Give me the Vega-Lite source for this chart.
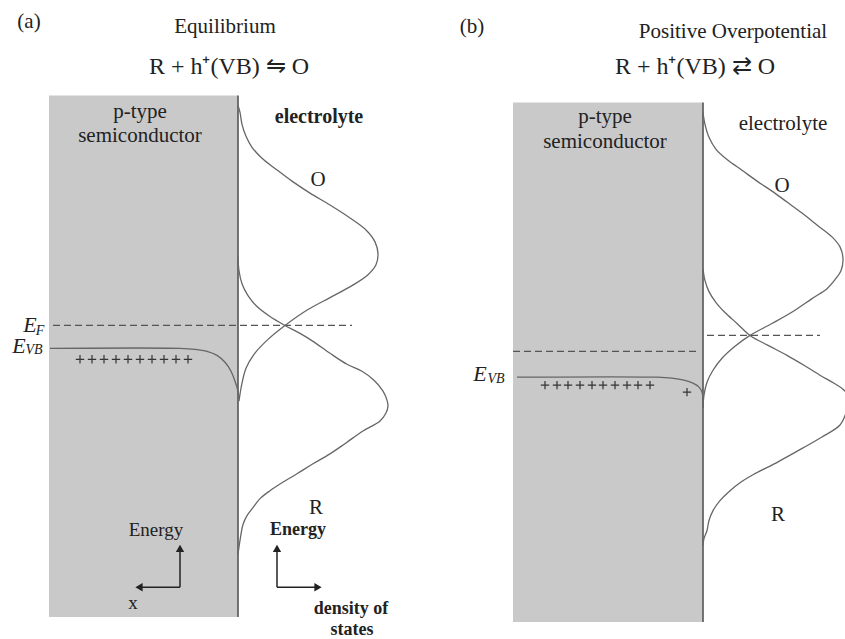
{
  "$schema": "https://vega.github.io/schema/vega-lite/v6.json",
  "width": 845,
  "height": 639,
  "autosize": {"type": "fit", "contains": "padding"},
  "padding": 0,
  "background": "white",
  "config": {"view": {"stroke": null}, "text": {"font": "Liberation Serif", "color": "#222"}},
  "datasets": {
    "panels": [
      {"panel": "a", "x0": 49, "x1": 238, "y0": 96, "y1": 620},
      {"panel": "b", "x0": 513, "x1": 703, "y0": 103, "y1": 625}
    ],
    "bounds": [
      {"panel": "a", "x": 238, "y": 96, "y2": 620},
      {"panel": "b", "x": 703, "y": 103, "y2": 625}
    ],
    "levels": [
      {"name": "EF a", "x": 53, "x2": 352, "y": 327},
      {"name": "EF b semi", "x": 513, "x2": 698, "y": 353},
      {"name": "EF b redox", "x": 707, "x2": 820, "y": 337}
    ],
    "arrows": [
      {"x": 180, "y": 590, "x2": 180, "y2": 552},
      {"x": 180, "y": 590, "x2": 140, "y2": 590},
      {"x": 277, "y": 590, "x2": 277, "y2": 552},
      {"x": 277, "y": 590, "x2": 317, "y2": 590}
    ],
    "heads": [
      {"x": 180, "y": 551, "dir": "up"},
      {"x": 139, "y": 590, "dir": "left"},
      {"x": 277, "y": 551, "dir": "up"},
      {"x": 318, "y": 590, "dir": "right"}
    ],
    "pluses": [
      {"x": 80, "y": 361}, {"x": 92, "y": 361}, {"x": 104, "y": 361}, {"x": 116, "y": 361}, {"x": 128, "y": 361},
      {"x": 140, "y": 361}, {"x": 152, "y": 361}, {"x": 164, "y": 361}, {"x": 176, "y": 361}, {"x": 188, "y": 361},
      {"x": 545, "y": 387}, {"x": 557, "y": 387}, {"x": 568, "y": 387}, {"x": 580, "y": 387}, {"x": 592, "y": 387},
      {"x": 603, "y": 387}, {"x": 615, "y": 387}, {"x": 627, "y": 387}, {"x": 638, "y": 387}, {"x": 650, "y": 387},
      {"x": 687, "y": 394}
    ],
    "curves": [
      {"c": "aO", "i": 1, "x": 238, "y": 106},
      {"c": "aO", "i": 2, "x": 240, "y": 113},
      {"c": "aO", "i": 3, "x": 242, "y": 125},
      {"c": "aO", "i": 4, "x": 246, "y": 137},
      {"c": "aO", "i": 5, "x": 252, "y": 148},
      {"c": "aO", "i": 6, "x": 262, "y": 159},
      {"c": "aO", "i": 7, "x": 276, "y": 170},
      {"c": "aO", "i": 8, "x": 292, "y": 182},
      {"c": "aO", "i": 9, "x": 310, "y": 194},
      {"c": "aO", "i": 10, "x": 330, "y": 206},
      {"c": "aO", "i": 11, "x": 350, "y": 219},
      {"c": "aO", "i": 12, "x": 366, "y": 231},
      {"c": "aO", "i": 13, "x": 375, "y": 243},
      {"c": "aO", "i": 14, "x": 378, "y": 255},
      {"c": "aO", "i": 15, "x": 376, "y": 266},
      {"c": "aO", "i": 16, "x": 368, "y": 276},
      {"c": "aO", "i": 17, "x": 352, "y": 287},
      {"c": "aO", "i": 18, "x": 330, "y": 299},
      {"c": "aO", "i": 19, "x": 308, "y": 311},
      {"c": "aO", "i": 20, "x": 285, "y": 327},
      {"c": "aO", "i": 21, "x": 268, "y": 341},
      {"c": "aO", "i": 22, "x": 254, "y": 356},
      {"c": "aO", "i": 23, "x": 246, "y": 370},
      {"c": "aO", "i": 24, "x": 242, "y": 385},
      {"c": "aO", "i": 25, "x": 240, "y": 396},
      {"c": "aO", "i": 26, "x": 239, "y": 403},
      {"c": "aR", "i": 1, "x": 238, "y": 258},
      {"c": "aR", "i": 2, "x": 239, "y": 272},
      {"c": "aR", "i": 3, "x": 242, "y": 285},
      {"c": "aR", "i": 4, "x": 248, "y": 297},
      {"c": "aR", "i": 5, "x": 257, "y": 308},
      {"c": "aR", "i": 6, "x": 270, "y": 318},
      {"c": "aR", "i": 7, "x": 285, "y": 327},
      {"c": "aR", "i": 8, "x": 300, "y": 335},
      {"c": "aR", "i": 9, "x": 313, "y": 343},
      {"c": "aR", "i": 10, "x": 330, "y": 355},
      {"c": "aR", "i": 11, "x": 347, "y": 366},
      {"c": "aR", "i": 12, "x": 362, "y": 373},
      {"c": "aR", "i": 13, "x": 374, "y": 382},
      {"c": "aR", "i": 14, "x": 383, "y": 393},
      {"c": "aR", "i": 15, "x": 387, "y": 402},
      {"c": "aR", "i": 16, "x": 388, "y": 408},
      {"c": "aR", "i": 17, "x": 386, "y": 415},
      {"c": "aR", "i": 18, "x": 380, "y": 423},
      {"c": "aR", "i": 19, "x": 363, "y": 433},
      {"c": "aR", "i": 20, "x": 346, "y": 445},
      {"c": "aR", "i": 21, "x": 330, "y": 456},
      {"c": "aR", "i": 22, "x": 313, "y": 466},
      {"c": "aR", "i": 23, "x": 297, "y": 476},
      {"c": "aR", "i": 24, "x": 282, "y": 485},
      {"c": "aR", "i": 25, "x": 270, "y": 493},
      {"c": "aR", "i": 26, "x": 260, "y": 501},
      {"c": "aR", "i": 27, "x": 253, "y": 510},
      {"c": "aR", "i": 28, "x": 247, "y": 518},
      {"c": "aR", "i": 29, "x": 243, "y": 527},
      {"c": "aR", "i": 30, "x": 240, "y": 543},
      {"c": "aR", "i": 31, "x": 238, "y": 557},
      {"c": "aE", "i": 1, "x": 50, "y": 350},
      {"c": "aE", "i": 2, "x": 180, "y": 350},
      {"c": "aE", "i": 3, "x": 195, "y": 351},
      {"c": "aE", "i": 4, "x": 207, "y": 353},
      {"c": "aE", "i": 5, "x": 217, "y": 357},
      {"c": "aE", "i": 6, "x": 225, "y": 364},
      {"c": "aE", "i": 7, "x": 231, "y": 373},
      {"c": "aE", "i": 8, "x": 235, "y": 383},
      {"c": "aE", "i": 9, "x": 238, "y": 393},
      {"c": "aE", "i": 10, "x": 239, "y": 400},
      {"c": "bO", "i": 1, "x": 703, "y": 113},
      {"c": "bO", "i": 2, "x": 705, "y": 125},
      {"c": "bO", "i": 3, "x": 709, "y": 138},
      {"c": "bO", "i": 4, "x": 716, "y": 150},
      {"c": "bO", "i": 5, "x": 728, "y": 161},
      {"c": "bO", "i": 6, "x": 742, "y": 171},
      {"c": "bO", "i": 7, "x": 757, "y": 182},
      {"c": "bO", "i": 8, "x": 772, "y": 192},
      {"c": "bO", "i": 9, "x": 787, "y": 203},
      {"c": "bO", "i": 10, "x": 802, "y": 214},
      {"c": "bO", "i": 11, "x": 817, "y": 226},
      {"c": "bO", "i": 12, "x": 832, "y": 238},
      {"c": "bO", "i": 13, "x": 840, "y": 248},
      {"c": "bO", "i": 14, "x": 843, "y": 260},
      {"c": "bO", "i": 15, "x": 841, "y": 272},
      {"c": "bO", "i": 16, "x": 835, "y": 281},
      {"c": "bO", "i": 17, "x": 827, "y": 290},
      {"c": "bO", "i": 18, "x": 812, "y": 300},
      {"c": "bO", "i": 19, "x": 793, "y": 313},
      {"c": "bO", "i": 20, "x": 772, "y": 325},
      {"c": "bO", "i": 21, "x": 750, "y": 337},
      {"c": "bO", "i": 22, "x": 735, "y": 348},
      {"c": "bO", "i": 23, "x": 722, "y": 360},
      {"c": "bO", "i": 24, "x": 713, "y": 372},
      {"c": "bO", "i": 25, "x": 707, "y": 384},
      {"c": "bO", "i": 26, "x": 704, "y": 397},
      {"c": "bO", "i": 27, "x": 703, "y": 410},
      {"c": "bR", "i": 1, "x": 703, "y": 270},
      {"c": "bR", "i": 2, "x": 705, "y": 282},
      {"c": "bR", "i": 3, "x": 709, "y": 293},
      {"c": "bR", "i": 4, "x": 716, "y": 304},
      {"c": "bR", "i": 5, "x": 725, "y": 314},
      {"c": "bR", "i": 6, "x": 737, "y": 325},
      {"c": "bR", "i": 7, "x": 750, "y": 337},
      {"c": "bR", "i": 8, "x": 768, "y": 347},
      {"c": "bR", "i": 9, "x": 787, "y": 357},
      {"c": "bR", "i": 10, "x": 804, "y": 367},
      {"c": "bR", "i": 11, "x": 820, "y": 377},
      {"c": "bR", "i": 12, "x": 834, "y": 385},
      {"c": "bR", "i": 13, "x": 843, "y": 391},
      {"c": "bR", "i": 14, "x": 849, "y": 398},
      {"c": "bR", "i": 15, "x": 851, "y": 405},
      {"c": "bR", "i": 16, "x": 847, "y": 413},
      {"c": "bR", "i": 17, "x": 840, "y": 427},
      {"c": "bR", "i": 18, "x": 822, "y": 439},
      {"c": "bR", "i": 19, "x": 803, "y": 450},
      {"c": "bR", "i": 20, "x": 778, "y": 464},
      {"c": "bR", "i": 21, "x": 753, "y": 477},
      {"c": "bR", "i": 22, "x": 740, "y": 485},
      {"c": "bR", "i": 23, "x": 730, "y": 493},
      {"c": "bR", "i": 24, "x": 720, "y": 503},
      {"c": "bR", "i": 25, "x": 713, "y": 513},
      {"c": "bR", "i": 26, "x": 709, "y": 523},
      {"c": "bR", "i": 27, "x": 707, "y": 533},
      {"c": "bR", "i": 28, "x": 704, "y": 541},
      {"c": "bR", "i": 29, "x": 703, "y": 548},
      {"c": "bE", "i": 1, "x": 517, "y": 379},
      {"c": "bE", "i": 2, "x": 657, "y": 379},
      {"c": "bE", "i": 3, "x": 672, "y": 380},
      {"c": "bE", "i": 4, "x": 684, "y": 382},
      {"c": "bE", "i": 5, "x": 693, "y": 385},
      {"c": "bE", "i": 6, "x": 699, "y": 389},
      {"c": "bE", "i": 7, "x": 702, "y": 394},
      {"c": "bE", "i": 8, "x": 703, "y": 402},
      {"c": "bE", "i": 9, "x": 703, "y": 410}
    ],
    "labels": [
      {"kind": "head", "text": "(a)", "x": 29, "y": 22},
      {"kind": "head", "text": "Equilibrium", "x": 225, "y": 27},
      {"kind": "head", "text": "(b)", "x": 472, "y": 27},
      {"kind": "head", "text": "Positive Overpotential", "x": 733, "y": 32},
      {"kind": "eq", "text": "R + h⁺(VB) ⇋ O", "x": 229, "y": 67},
      {"kind": "eq", "text": "R + h⁺(VB) ⇄ O", "x": 695, "y": 67},
      {"kind": "body", "text": "p-type", "x": 140, "y": 113},
      {"kind": "body", "text": "semiconductor", "x": 140, "y": 137},
      {"kind": "body", "text": "p-type", "x": 605, "y": 118},
      {"kind": "body", "text": "semiconductor", "x": 605, "y": 143},
      {"kind": "body", "text": "electrolyte", "x": 783, "y": 125},
      {"kind": "bodyB", "text": "electrolyte", "x": 319, "y": 118},
      {"kind": "letter", "text": "O", "x": 318, "y": 181},
      {"kind": "letter", "text": "R", "x": 316, "y": 510},
      {"kind": "letter", "text": "O", "x": 782, "y": 187},
      {"kind": "letter", "text": "R", "x": 778, "y": 517},
      {"kind": "small", "text": "Energy", "x": 156, "y": 532},
      {"kind": "small", "text": "x", "x": 133, "y": 606},
      {"kind": "smallB", "text": "Energy", "x": 298, "y": 532},
      {"kind": "smallB", "text": "density of", "x": 351, "y": 612},
      {"kind": "smallB", "text": "states", "x": 352, "y": 633},
      {"kind": "E", "text": "E", "x": 30, "y": 327},
      {"kind": "E", "text": "E", "x": 19, "y": 348},
      {"kind": "E", "text": "E", "x": 480, "y": 376},
      {"kind": "sub", "text": "F", "x": 40, "y": 333},
      {"kind": "sub", "text": "VB", "x": 34, "y": 352},
      {"kind": "sub", "text": "VB", "x": 496, "y": 381}
    ]
  },
  "layer": [
    {
      "data": {"name": "panels"},
      "mark": {"type": "rect", "fill": "#c9c9c9"},
      "encoding": {
        "x": {"field": "x0", "type": "quantitative", "scale": {"domain": [0, 845], "nice": false, "zero": false}, "axis": null},
        "x2": {"field": "x1"},
        "y": {"field": "y0", "type": "quantitative", "scale": {"domain": [0, 639], "nice": false, "zero": false, "reverse": true}, "axis": null},
        "y2": {"field": "y1"}
      }
    },
    {
      "data": {"name": "bounds"},
      "mark": {"type": "rule", "stroke": "#555", "strokeWidth": 1.6},
      "encoding": {
        "x": {"field": "x", "type": "quantitative"},
        "y": {"field": "y", "type": "quantitative"},
        "y2": {"field": "y2"}
      }
    },
    {
      "data": {"name": "levels"},
      "mark": {"type": "rule", "stroke": "#555", "strokeWidth": 1.2, "strokeDash": [7, 4]},
      "encoding": {
        "x": {"field": "x", "type": "quantitative"},
        "x2": {"field": "x2"},
        "y": {"field": "y", "type": "quantitative"}
      }
    },
    {
      "data": {"name": "curves"},
      "mark": {"type": "line", "stroke": "#666", "strokeWidth": 1.3, "interpolate": "catmull-rom", "clip": true},
      "encoding": {
        "x": {"field": "x", "type": "quantitative"},
        "y": {"field": "y", "type": "quantitative"},
        "detail": {"field": "c", "type": "nominal"},
        "order": {"field": "i", "type": "quantitative"}
      }
    },
    {
      "data": {"name": "pluses"},
      "mark": {"type": "point", "shape": "M-1,0H1M0,-1V1", "filled": false, "stroke": "#333", "strokeWidth": 1.2, "size": 70, "opacity": 1},
      "encoding": {
        "x": {"field": "x", "type": "quantitative"},
        "y": {"field": "y", "type": "quantitative"}
      }
    },
    {
      "data": {"name": "arrows"},
      "mark": {"type": "rule", "stroke": "#222", "strokeWidth": 1.5},
      "encoding": {
        "x": {"field": "x", "type": "quantitative"},
        "x2": {"field": "x2"},
        "y": {"field": "y", "type": "quantitative"},
        "y2": {"field": "y2"}
      }
    },
    {
      "data": {"name": "heads"},
      "mark": {"type": "point", "filled": true, "color": "#222", "size": 70, "opacity": 1},
      "encoding": {
        "x": {"field": "x", "type": "quantitative"},
        "y": {"field": "y", "type": "quantitative"},
        "shape": {"field": "dir", "type": "nominal", "scale": {"domain": ["up", "left", "right"], "range": ["triangle-up", "triangle-left", "triangle-right"]}, "legend": null}
      }
    },
    {
      "data": {"name": "labels"},
      "transform": [{"filter": "datum.kind === 'head'"}],
      "mark": {"type": "text", "font": "Liberation Serif", "fontSize": 21, "align": "center", "baseline": "middle", "color": "#222"},
      "encoding": {"x": {"field": "x", "type": "quantitative"}, "y": {"field": "y", "type": "quantitative"}, "text": {"field": "text"}}
    },
    {
      "data": {"name": "labels"},
      "transform": [{"filter": "datum.kind === 'eq'"}],
      "mark": {"type": "text", "font": "Liberation Serif", "fontSize": 24, "align": "center", "baseline": "middle", "color": "#222"},
      "encoding": {"x": {"field": "x", "type": "quantitative"}, "y": {"field": "y", "type": "quantitative"}, "text": {"field": "text"}}
    },
    {
      "data": {"name": "labels"},
      "transform": [{"filter": "datum.kind === 'body'"}],
      "mark": {"type": "text", "font": "Liberation Serif", "fontSize": 21, "align": "center", "baseline": "middle", "color": "#222"},
      "encoding": {"x": {"field": "x", "type": "quantitative"}, "y": {"field": "y", "type": "quantitative"}, "text": {"field": "text"}}
    },
    {
      "data": {"name": "labels"},
      "transform": [{"filter": "datum.kind === 'bodyB'"}],
      "mark": {"type": "text", "font": "Liberation Serif", "fontSize": 20, "fontWeight": "bold", "align": "center", "baseline": "middle", "color": "#222"},
      "encoding": {"x": {"field": "x", "type": "quantitative"}, "y": {"field": "y", "type": "quantitative"}, "text": {"field": "text"}}
    },
    {
      "data": {"name": "labels"},
      "transform": [{"filter": "datum.kind === 'letter'"}],
      "mark": {"type": "text", "font": "Liberation Serif", "fontSize": 21, "align": "center", "baseline": "middle", "color": "#222"},
      "encoding": {"x": {"field": "x", "type": "quantitative"}, "y": {"field": "y", "type": "quantitative"}, "text": {"field": "text"}}
    },
    {
      "data": {"name": "labels"},
      "transform": [{"filter": "datum.kind === 'small'"}],
      "mark": {"type": "text", "font": "Liberation Serif", "fontSize": 19, "align": "center", "baseline": "middle", "color": "#222"},
      "encoding": {"x": {"field": "x", "type": "quantitative"}, "y": {"field": "y", "type": "quantitative"}, "text": {"field": "text"}}
    },
    {
      "data": {"name": "labels"},
      "transform": [{"filter": "datum.kind === 'smallB'"}],
      "mark": {"type": "text", "font": "Liberation Serif", "fontSize": 18, "fontWeight": "bold", "align": "center", "baseline": "middle", "color": "#222"},
      "encoding": {"x": {"field": "x", "type": "quantitative"}, "y": {"field": "y", "type": "quantitative"}, "text": {"field": "text"}}
    },
    {
      "data": {"name": "labels"},
      "transform": [{"filter": "datum.kind === 'E'"}],
      "mark": {"type": "text", "font": "Liberation Serif", "fontSize": 22, "fontStyle": "italic", "align": "center", "baseline": "middle", "color": "#222"},
      "encoding": {"x": {"field": "x", "type": "quantitative"}, "y": {"field": "y", "type": "quantitative"}, "text": {"field": "text"}}
    },
    {
      "data": {"name": "labels"},
      "transform": [{"filter": "datum.kind === 'sub'"}],
      "mark": {"type": "text", "font": "Liberation Serif", "fontSize": 14, "fontStyle": "italic", "align": "center", "baseline": "middle", "color": "#222"},
      "encoding": {"x": {"field": "x", "type": "quantitative"}, "y": {"field": "y", "type": "quantitative"}, "text": {"field": "text"}}
    }
  ]
}
